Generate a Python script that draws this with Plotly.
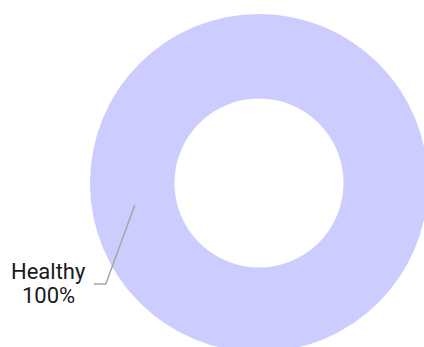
import math
import plotly.graph_objects as go

# ---- data ----
labels = ["Healthy"]
values = [100]
colors = ["#CCCCFF"]

# ---- layout geometry (pixels) ----
W, H = 428, 352
CX, CY, R = 259, 183, 169
HOLE = 0.5
LABEL_ANGLE_DEG = 190          # where the leader line starts (math angle, 0 = right, ccw)
LINE_COLOR = "#A6A6A6"
FONT = dict(family="Roboto", size=22, color="#1A1A1A")

total = sum(values)
pct_text = [f"{v / total * 100:.0f}%" for v in values]

fig = go.Figure(
    go.Pie(
        labels=labels,
        values=values,
        hole=HOLE,
        sort=False,
        direction="clockwise",
        marker=dict(colors=colors, line=dict(width=0)),
        textinfo="none",
        hoverinfo="label+percent",
        showlegend=False,
        domain=dict(x=[(CX - R) / W, min(1, (CX + R) / W)],
                    y=[1 - (CY + R) / H, 1 - (CY - R) / H]),
    )
)

def to_paper(px, py):
    return px / W, 1 - py / H

# leader line from middle of ring
rm = R * (1 + HOLE) / 2 * 0.995
a = math.radians(LABEL_ANGLE_DEG)
p0 = (CX + rm * math.cos(a), CY - rm * math.sin(a))
p1 = (p0[0] - 29, p0[1] + 79)
p2 = (p1[0] - 12, p1[1])
pts = [to_paper(*p) for p in (p0, p1, p2)]
path = "M {},{} L {},{} L {},{}".format(*[c for p in pts for c in p])
fig.add_shape(type="path", path=path, xref="paper", yref="paper",
              line=dict(color=LINE_COLOR, width=1.5))

tx = p2[0] - 45.5
for text, dy in ((labels[0], -12), (pct_text[0], 12)):
    lx, ly = to_paper(tx, p2[1] + dy)
    fig.add_annotation(x=lx, y=ly, xref="paper", yref="paper",
                       text=text, showarrow=False,
                       xanchor="center", yanchor="middle", align="center",
                       font=FONT)

fig.update_layout(
    width=W, height=H,
    margin=dict(l=0, r=0, t=0, b=0),
    paper_bgcolor="white", plot_bgcolor="white",
)

fig.write_html("out.html", config={"displayModeBar": False},
               post_script="document.body.style.overflow='hidden';document.documentElement.style.overflow='hidden';")
